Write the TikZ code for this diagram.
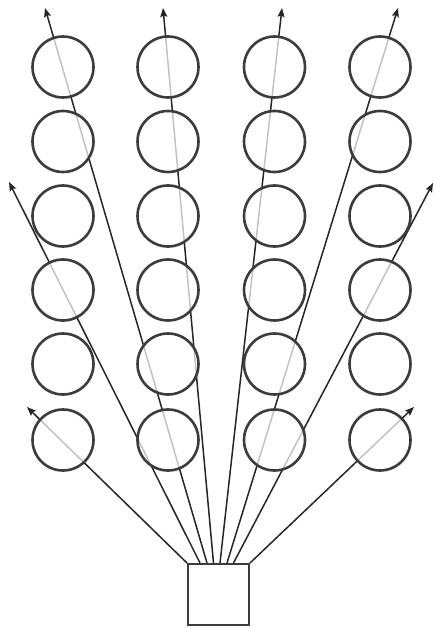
\documentclass[tikz,border=0pt]{standalone}
\usetikzlibrary{arrows.meta}
\definecolor{ringc}{HTML}{3C3C3C}
\definecolor{linec}{HTML}{262626}
\begin{document}
\begin{tikzpicture}[x=1pt,y=-1pt,
  unit/.style={circle,draw=ringc,line width=2.6pt,minimum size=61pt,inner sep=0pt,fill=white,fill opacity=0.72,draw opacity=1},
  srcbox/.style={rectangle,draw=ringc,line width=2pt,minimum size=61pt,inner sep=0pt,fill=white},
  conn/.style={draw=linec,line width=1.5pt,-{Stealth[length=9pt,width=7pt,inset=1.5pt]}}]
\useasboundingbox (0,0) rectangle (435,628);
\node[srcbox] (box) at (218.5,594.5) {};
% free ends
\coordinate (e1) at (27,407);
\coordinate (e2) at (9,182);
\coordinate (e3) at (45,8);
\coordinate (e4) at (163,8);
\coordinate (e5) at (282,8);
\coordinate (e6) at (398,8);
\coordinate (e7) at (433,183);
\coordinate (e8) at (414,407);
\draw[conn] (box.north west) -- (e1);
\draw[conn] ([xshift=13pt]box.north west) -- (e2);
\draw[conn] ([xshift=20pt]box.north west) -- (e3);
\draw[conn] ([xshift=26.5pt]box.north west) -- (e4);
\draw[conn] ([xshift=33pt]box.north west) -- (e5);
\draw[conn] ([xshift=40pt]box.north west) -- (e6);
\draw[conn] ([xshift=46.5pt]box.north west) -- (e7);
\draw[conn] (box.north east) -- (e8);
% circles
\foreach \cx [count=\j] in {63,168,274.5,380}{
  \foreach \cy [count=\i] in {67,141.5,216,290,364,440}{
    \node[unit] (c\i-\j) at (\cx,\cy) {};
  }
}
\end{tikzpicture}
\end{document}
